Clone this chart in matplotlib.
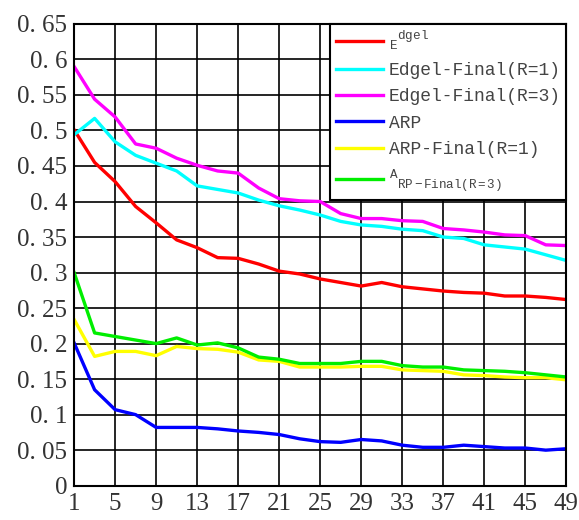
import matplotlib
matplotlib.use("Agg")
import matplotlib.pyplot as plt

# =========================
# data
# =========================
x = list(range(1, 50, 2))

edgel = [0.501, 0.455, 0.428, 0.393, 0.370, 0.346, 0.335, 0.321, 0.320, 0.312,
         0.302, 0.298, 0.291, 0.286, 0.281, 0.286, 0.280, 0.277, 0.274, 0.272,
         0.271, 0.267, 0.267, 0.265, 0.262]
edgel_r1 = [0.494, 0.517, 0.484, 0.465, 0.454, 0.443, 0.422, 0.417, 0.412, 0.402,
            0.394, 0.388, 0.381, 0.372, 0.367, 0.365, 0.361, 0.359, 0.350, 0.348,
            0.339, 0.336, 0.333, 0.325, 0.317]
edgel_r3 = [0.590, 0.544, 0.519, 0.481, 0.475, 0.461, 0.451, 0.443, 0.440, 0.419,
            0.404, 0.401, 0.400, 0.383, 0.376, 0.376, 0.373, 0.372, 0.362, 0.360,
            0.357, 0.353, 0.352, 0.339, 0.338]
arp = [0.201, 0.135, 0.107, 0.100, 0.082, 0.082, 0.082, 0.080, 0.077, 0.075,
       0.072, 0.066, 0.062, 0.061, 0.065, 0.063, 0.057, 0.054, 0.054, 0.057,
       0.055, 0.053, 0.053, 0.050, 0.052]
arp_r1 = [0.234, 0.182, 0.189, 0.189, 0.183, 0.196, 0.193, 0.192, 0.188, 0.177,
          0.175, 0.167, 0.167, 0.167, 0.168, 0.168, 0.163, 0.162, 0.161, 0.156,
          0.155, 0.153, 0.152, 0.152, 0.149]
arp_r3 = [0.300, 0.215, 0.210, 0.205, 0.200, 0.208, 0.198, 0.201, 0.194, 0.181,
          0.178, 0.172, 0.172, 0.172, 0.175, 0.175, 0.169, 0.167, 0.167, 0.163,
          0.162, 0.161, 0.159, 0.156, 0.153]

labels = [
    r"$\mathregular{{}_{E}{}^{dgel}}$",
    "Edgel-Final(R=1)",
    "Edgel-Final(R=3)",
    "ARP",
    "ARP-Final(R=1)",
    r"$\mathregular{{}^{A}{}_{RP-Final(R=3)}}$",
]
colors = ["#ff0000", "#00ffff", "#ff00ff", "#0000ff", "#ffff00", "#00ee00"]
series = [edgel, edgel_r1, edgel_r3, arp, arp_r1, arp_r3]

xticks = list(range(1, 50, 4))
yticks = [i * 0.05 for i in range(14)]
ytick_labels = ["0"] + ["0. " + f"{v:.2f}"[2:].rstrip("0") for v in yticks[1:]]

# mathtext labels in the same mono face as the legend
plt.rcParams["mathtext.fontset"] = "custom"
plt.rcParams["mathtext.rm"] = "Liberation Mono"
plt.rcParams["mathtext.it"] = "Liberation Mono"

# =========================
# plot
# =========================
fig = plt.figure(figsize=(5.79, 5.20), dpi=100)
ax = fig.add_axes([0.128, 0.066, 0.850, 0.888])

for ys, c, lab in zip(series, colors, labels):
    ax.plot(x, ys, color=c, linewidth=2.4, label=lab)

ax.set_xlim(1, 49)
ax.set_ylim(0, 0.65)
ax.set_xticks(xticks)
ax.set_yticks(yticks)
ax.set_yticklabels(ytick_labels)
ax.grid(True, color="black", linewidth=1.2)
ax.tick_params(length=0, labelsize=18, pad=5)
for lab in ax.get_xticklabels() + ax.get_yticklabels():
    lab.set_family("Liberation Serif")
    lab.set_color("#333333")
for s in ax.spines.values():
    s.set_color("black")
    s.set_linewidth(1.5)

leg = ax.legend(loc="upper right", borderaxespad=0,
                prop={"family": "Liberation Mono", "size": 13},
                handlelength=2.65, labelspacing=0.52, fancybox=False,
                framealpha=1, edgecolor="black", handletextpad=0.3,
                borderpad=0.3)
leg.get_frame().set_linewidth(1.5)
for t in leg.get_texts():
    t.set_color("#444444")

fig.savefig("out.png", dpi=100)
